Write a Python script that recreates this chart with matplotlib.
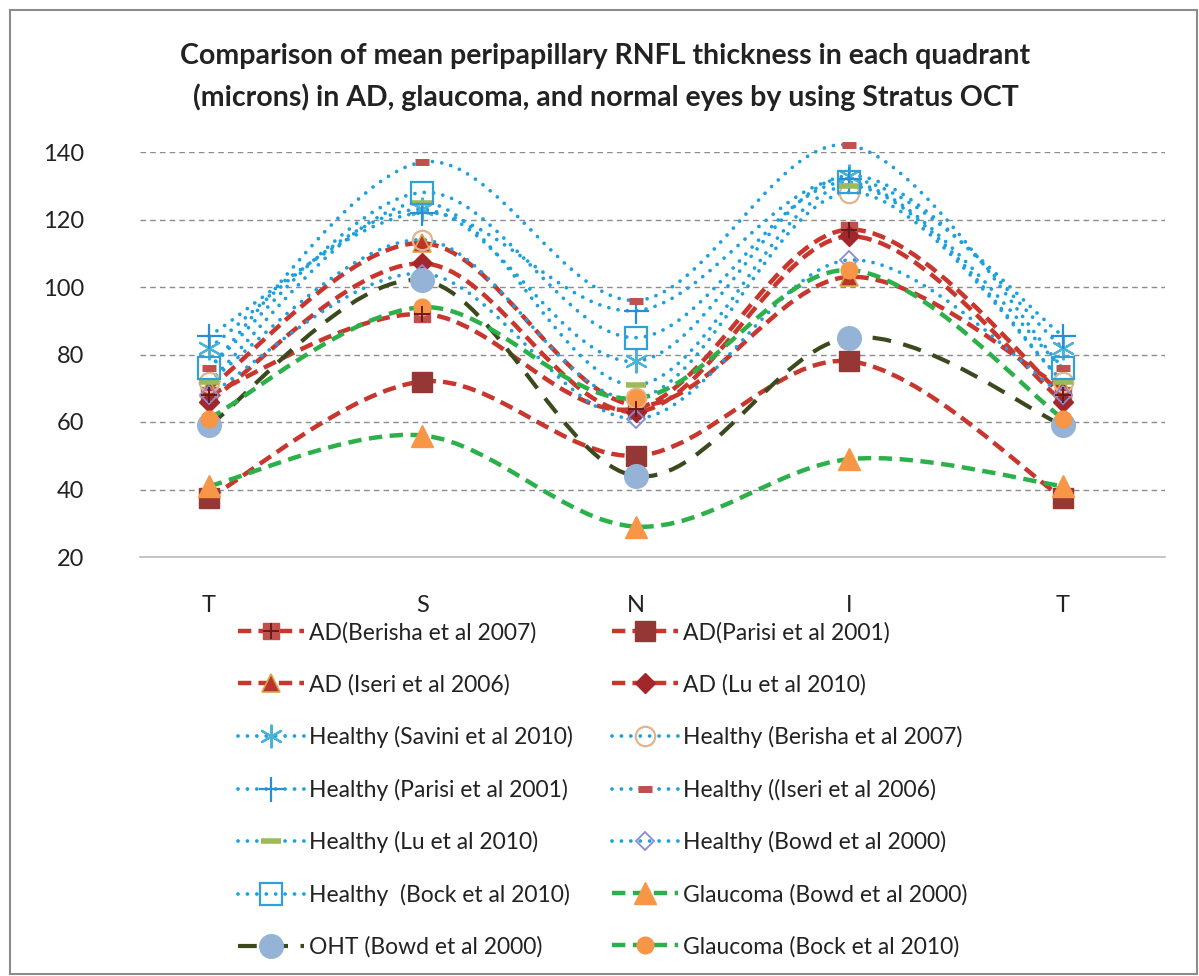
import numpy as np
import matplotlib
matplotlib.use('Agg')
import matplotlib.pyplot as plt
from matplotlib.path import Path
from matplotlib.patches import PathPatch, Rectangle
from matplotlib.lines import Line2D
from matplotlib.legend_handler import HandlerTuple

plt.rcParams['font.family'] = ['Lato', 'DejaVu Sans']

quadrants = ['T', 'S', 'N', 'I', 'T']

ad_berisha = [68, 92, 64, 117, 68]
ad_parisi = [37.5, 72, 50, 78, 37.5]
ad_iseri = [70, 113, 65, 103, 70]
ad_lu = [66, 107, 63, 115, 66]
healthy_savini = [82, 123, 78, 133, 82]
healthy_berisha = [72, 114, 67, 128, 72]
healthy_parisi = [85.5, 122, 93, 132, 85.5]
healthy_iseri = [76, 137, 96, 142, 76]
healthy_lu = [72, 125, 71, 130, 72]
healthy_bowd = [68, 104, 61, 108, 68]
healthy_bock = [76, 128, 85, 131, 76]
glaucoma_bowd = [41, 56, 29, 49, 41]
oht_bowd = [59, 102, 44, 85, 59]
glaucoma_bock = [61, 94, 67, 105, 61]

labels = [
    'AD(Berisha et al 2007)', 'AD(Parisi et al 2001)',
    'AD (Iseri et al 2006)', 'AD (Lu et al 2010)',
    'Healthy (Savini et al 2010)', 'Healthy (Berisha et al 2007)',
    'Healthy (Parisi et al 2001)', 'Healthy ((Iseri et al 2006)',
    'Healthy (Lu et al 2010)', 'Healthy (Bowd et al 2000)',
    'Healthy  (Bock et al 2010)', 'Glaucoma (Bowd et al 2000)',
    'OHT (Bowd et al 2000)', 'Glaucoma (Bock et al 2010)',
]
series = [ad_berisha, ad_parisi, ad_iseri, ad_lu, healthy_savini, healthy_berisha,
          healthy_parisi, healthy_iseri, healthy_lu, healthy_bowd, healthy_bock,
          glaucoma_bowd, oht_bowd, glaucoma_bock]

RED = '#C8362E'
BLUE = '#1DA0E0'
GREEN = '#2CB04A'
OLIVE = '#3B4A1E'

red_ls = (0, (3.0, 1.6))
blue_ls = (0, (0.01, 2.5))
green_ls = (0, (3.0, 1.7))
oht_ls = (0, (4.5, 3.0))

line_styles = [
    dict(color=RED, lw=3.2, ls=red_ls, cap='butt'),
    dict(color=RED, lw=3.2, ls=red_ls, cap='butt'),
    dict(color=RED, lw=3.2, ls=red_ls, cap='butt'),
    dict(color=RED, lw=3.2, ls=red_ls, cap='butt'),
] + [dict(color=BLUE, lw=2.7, ls=blue_ls, cap='round')] * 7 + [
    dict(color=GREEN, lw=3.2, ls=green_ls, cap='butt'),
    dict(color=OLIVE, lw=3.0, ls=oht_ls, cap='butt'),
    dict(color=GREEN, lw=3.2, ls=green_ls, cap='butt'),
]

marker_styles = [
    dict(marker='s', ms=12, mfc='#C0504D', mec='#C0504D', mew=1),
    dict(marker='s', ms=15, mfc='#953735', mec='#953735', mew=1),
    dict(marker='^', ms=13, mfc='#B8342C', mec='#D9A441', mew=1.2),
    dict(marker='D', ms=10, mfc='#A3262A', mec='#A3262A', mew=1),
    dict(marker=(6, 2, 0), ms=17, mfc='none', mec='#4BB3D8', mew=1.6),
    dict(marker='o', ms=14, mfc='none', mec='#E2B48C', mew=1.6),
    dict(marker='+', ms=18, mfc='none', mec='#2A8FD2', mew=1.6),
    dict(marker='_', ms=10, mfc='#C0504D', mec='#C0504D', mew=5),
    dict(marker='_', ms=14, mfc='#9BBB59', mec='#9BBB59', mew=4),
    dict(marker='D', ms=9, mfc='none', mec='#8A8AD6', mew=1.3),
    dict(marker='s', ms=16, mfc='none', mec='#31A0D6', mew=1.6),
    dict(marker='^', ms=16, mfc='#F79646', mec='#F79646', mew=1),
    dict(marker='o', ms=17, mfc='#95B3D7', mec='#95B3D7', mew=1),
    dict(marker='o', ms=12, mfc='#F79646', mec='#F79646', mew=1),
]


def smooth_path(xs, ys):
    pts = np.column_stack([xs, ys]).astype(float)
    n = len(pts)
    verts = [pts[0]]
    codes = [Path.MOVETO]
    for i in range(n - 1):
        p0 = pts[max(i - 1, 0)]
        p1 = pts[i]
        p2 = pts[i + 1]
        p3 = pts[min(i + 2, n - 1)]
        verts += [p1 + (p2 - p0) / 6.0, p2 - (p3 - p1) / 6.0, p2]
        codes += [Path.CURVE4] * 3
    return Path(verts, codes)


W, H = 1199, 976
fig = plt.figure(figsize=(W / 100, H / 100), dpi=100)
fig.patch.set_facecolor('white')
fig.add_artist(Rectangle((10 / W, 0.002), 1 - 12 / W, 1 - 12 / H, transform=fig.transFigure,
                         fill=False, edgecolor='#8C8C8C', lw=1.5))

ax = fig.add_axes([140 / W, 1 - 557 / H, (1165 - 140) / W, (557 - 152) / H])
x = np.arange(len(quadrants))
ax.set_xlim(-0.323, 4.478)
ax.set_ylim(20, 140)
ax.set_yticks([20, 40, 60, 80, 100, 120, 140])
ax.set_xticks(x)
ax.set_xticklabels(quadrants)
ax.tick_params(axis='both', length=0, labelsize=17, colors='#222222')
ax.tick_params(axis='x', pad=27)
ax.tick_params(axis='y', pad=40)
for sp in ['top', 'right', 'left']:
    ax.spines[sp].set_visible(False)
ax.spines['bottom'].set_color('#BBBBBB')
ax.spines['bottom'].set_linewidth(1.2)
for yv in [40, 60, 80, 100, 120, 140]:
    ax.axhline(yv, color='#8C8C8C', lw=1.0, ls=(0, (4, 3)), zorder=0)

for vals, st in zip(series, line_styles):
    patch = PathPatch(smooth_path(x, vals), fill=False, edgecolor=st['color'], lw=st['lw'],
                      linestyle=st['ls'], capstyle=st['cap'], clip_on=False, zorder=2)
    ax.add_patch(patch)

for vals, ms in zip(series, marker_styles):
    ax.plot(x, vals, linestyle='none', clip_on=False, zorder=3, **ms)
ax.plot(x, ad_berisha, linestyle='none', marker='+', ms=12, mec='#6B1A1A', mew=1.4,
        clip_on=False, zorder=3)

handles = []
for i, (st, ms) in enumerate(zip(line_styles, marker_styles)):
    h = Line2D([0], [0], color=st['color'], lw=st['lw'], linestyle=st['ls'],
               dash_capstyle=st['cap'], **ms)
    if i == 0:
        h2 = Line2D([0], [0], linestyle='none', marker='+', ms=12, mec='#6B1A1A', mew=1.4)
        h = (h, h2)
    handles.append(h)

order = [0, 2, 4, 6, 8, 10, 12, 1, 3, 5, 7, 9, 11, 13]
leg = fig.legend([handles[i] for i in order], [labels[i] for i in order],
                 loc='upper left', bbox_to_anchor=(238 / W, 1 - 622 / H), ncol=2,
                 frameon=False, fontsize=16.5, handlelength=2.9, handletextpad=0.2,
                 columnspacing=1.7, labelspacing=1.33, borderpad=0, borderaxespad=0,
                 numpoints=1, handler_map={tuple: HandlerTuple(ndivide=1, pad=0)})
for t in leg.get_texts():
    t.set_color('#222222')

fig.text(0.505, 1 - 77 / H,
         'Comparison of mean peripapillary RNFL thickness in each quadrant\n'
         '(microns) in AD, glaucoma, and normal eyes by using Stratus OCT',
         ha='center', va='center', fontsize=20.5, fontweight='bold', linespacing=1.6,
         color='#222222')

fig.savefig('out.png', dpi=100, facecolor='white')
